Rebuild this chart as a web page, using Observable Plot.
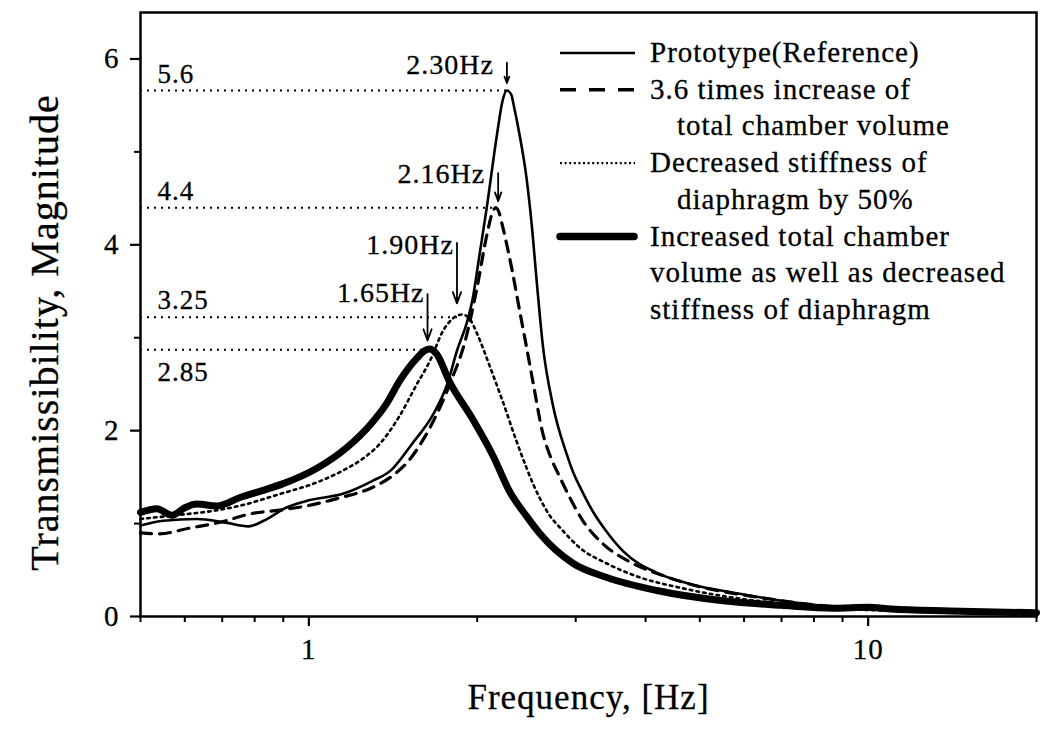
<!DOCTYPE html>
<html><head><meta charset="utf-8">
<script src="https://cdn.jsdelivr.net/npm/d3@7"></script>
<script src="https://cdn.jsdelivr.net/npm/@observablehq/plot@0.6"></script>
<style>
html,body{margin:0;padding:0;background:#fff;}
#chart{width:1044px;height:730px;}
svg text{letter-spacing:1px;stroke:black;stroke-width:0.3px;}
</style></head><body><div id="chart"></div>
<script>
// ---- data ----
const protoF = [0.5,0.55,0.63,0.71,0.78,0.83,0.91,1.0,1.15,1.3,1.4,1.53,1.67,1.77,1.84,1.92,1.96,2.02,2.08,2.17,2.22,2.26,2.30,2.33,2.38,2.45,2.50,2.56,2.62,2.73,2.89,2.97,3.05,3.22,3.4,3.65,4.19,4.8,5.82,7.0,8.5,10,12,15,20];
const protoV = [0.98,1.03,1.05,1.01,0.97,1.03,1.17,1.25,1.32,1.46,1.57,1.86,2.18,2.51,2.86,3.18,3.40,3.9,4.40,5.19,5.55,5.66,5.62,5.47,5.19,4.72,4.25,3.55,2.92,2.28,1.75,1.55,1.40,1.13,0.92,0.70,0.47,0.35,0.25,0.17,0.11,0.08,0.06,0.05,0.04];

const dashF = [0.5,0.54,0.61,0.7,0.78,0.9,0.99,1.14,1.29,1.4,1.5,1.6,1.7,1.8,1.9,2.0,2.08,2.13,2.16,2.19,2.22,2.31,2.38,2.45,2.52,2.62,2.7,2.8,2.9,3.09,3.36,3.8,4.3,5.0,6.0,7.0,8.5,10,12,15,20];
const dashV = [0.90,0.89,0.95,1.02,1.10,1.15,1.19,1.28,1.38,1.5,1.66,1.9,2.2,2.55,2.95,3.55,4.1,4.35,4.4,4.34,4.2,3.72,3.3,2.9,2.5,1.97,1.73,1.52,1.33,1.03,0.78,0.57,0.44,0.32,0.23,0.17,0.11,0.08,0.06,0.05,0.04];

const dotF = [0.5,0.6,0.68,0.75,0.89,1.03,1.15,1.25,1.34,1.45,1.56,1.646,1.74,1.82,1.88,1.94,2.0,2.11,2.22,2.35,2.45,2.52,2.6,2.7,2.81,3.05,3.41,3.91,4.61,5.5,7,10,14,20];
const dotV = [1.05,1.1,1.14,1.19,1.32,1.44,1.57,1.70,1.86,2.15,2.5,2.75,3.08,3.22,3.25,3.2,3.04,2.68,2.32,1.89,1.6,1.42,1.25,1.08,0.96,0.74,0.57,0.42,0.31,0.22,0.14,0.07,0.05,0.03];

const thickF = [0.5,0.535,0.569,0.6,0.63,0.685,0.753,0.82,0.9,1.03,1.17,1.29,1.38,1.455,1.56,1.61,1.646,1.69,1.787,1.965,2.134,2.288,2.45,2.59,2.97,3.41,4.19,5.5,7,8.7,10,11,14,20];
const thickV = [1.12,1.16,1.09,1.17,1.21,1.19,1.28,1.35,1.43,1.59,1.82,2.07,2.30,2.54,2.78,2.86,2.88,2.83,2.52,2.12,1.73,1.34,1.08,0.89,0.57,0.42,0.28,0.17,0.12,0.09,0.10,0.08,0.06,0.04];

// reference (peak) lines
const refY = [5.66, 4.4, 3.22, 2.87];
const refEnd = [2.26, 2.14, 1.86, 1.62];
const refLabels = ["5.6", "4.4", "3.25", "2.85"];

// peak-frequency annotations
const annoText = ["2.30Hz", "2.16Hz", "1.90Hz", "1.65Hz"];
const annoF = [2.26, 2.18, 1.84, 1.63];
const annoTop = [5.96, 4.77, 4.02, 3.47];
const annoTip = [5.74, 4.47, 3.37, 2.97];
const annoTextY = [5.84, 4.66, 3.90, 3.38];

// axes
const xMajor = [1, 10];
const xMinor = [0.5,0.6,0.7,0.8,0.9,2,3,4,5,6,7,8,9,20];
const yMajor = [0, 2, 4, 6];
const yMinor = [1, 3, 5];
const xTitle = "Frequency, [Hz]";
const yTitle = "Transmissibility, Magnitude";

// legend
const legendLabels = [
  ["Prototype(Reference)"],
  ["3.6 times increase of", "total chamber volume"],
  ["Decreased stiffness of", "diaphragm by 50%"],
  ["Increased total chamber", "volume as well as decreased", "stiffness of diaphragm"]
];

// ---- build ----
const toRows = (f, v) => f.map((d, i) => ({f: d, v: v[i]}));
const proto = toRows(protoF, protoV);
const dashed = toRows(dashF, dashV);
const dotted = toRows(dotF, dotV);
const thick = toRows(thickF, thickV);
const refs = refY.map((y, i) => ({y, end: refEnd[i], label: refLabels[i], i}));
const annos = annoText.map((t, i) => ({t, f: annoF[i], top: annoTop[i], tip: annoTip[i], ty: annoTextY[i], i}));

const serif = "'Liberation Serif', 'Times New Roman', serif";

const chart = Plot.plot({
  width: 1044, height: 730,
  marginLeft: 140, marginRight: 8, marginTop: 12, marginBottom: 114,
  x: {type: "log", domain: [0.5, 20], label: null},
  y: {domain: [0, 6.5], label: null},
  style: {fontFamily: serif, fontSize: "28px", color: "black", background: "white"},
  marks: [
    Plot.ruleY(refs, {y: "y", x1: 0.5, x2: "end", stroke: "black", strokeWidth: 2, strokeDasharray: "2,5"}),
    Plot.text(refs.filter(d => d.i < 3), {x: 0.5, y: "y", text: "label", textAnchor: "start", lineAnchor: "bottom", dx: 17, dy: -8, fontSize: 27}),
    Plot.text(refs.filter(d => d.i === 3), {x: 0.5, y: "y", text: "label", textAnchor: "start", lineAnchor: "top", dx: 17, dy: 12, fontSize: 27}),
    Plot.line(dotted, {x: "f", y: "v", curve: "monotone-x", stroke: "black", strokeWidth: 2.6, strokeDasharray: "2.6,4.2"}),
    Plot.line(dashed, {x: "f", y: "v", curve: "monotone-x", stroke: "black", strokeWidth: 3.2, strokeDasharray: "11,8"}),
    Plot.line(proto, {x: "f", y: "v", curve: "monotone-x", stroke: "black", strokeWidth: 2.6}),
    Plot.line(thick, {x: "f", y: "v", curve: "monotone-x", stroke: "black", strokeWidth: 7, strokeLinejoin: "round"}),
    Plot.arrow(annos, {x1: "f", y1: "top", x2: "f", y2: "tip", stroke: "black", strokeWidth: 1.8, headLength: 10, headAngle: 40}),
    Plot.text(annos.filter(d => d.i < 2), {x: "f", y: "ty", text: "t", textAnchor: "end", lineAnchor: "bottom", dx: -13, fontSize: 28}),
    Plot.text(annos.filter(d => d.i >= 2), {x: "f", y: "ty", text: "t", textAnchor: "end", lineAnchor: "bottom", dx: -3, fontSize: 28}),
    Plot.frame({stroke: "black", strokeWidth: 2.5}),
    Plot.axisX({ticks: xMajor, tickSize: 10, tickPadding: 12, tickFormat: d => String(d), strokeWidth: 2.2, fontSize: 29, label: null}),
    Plot.axisX({ticks: xMinor, tickSize: 6, tickFormat: () => "", strokeWidth: 2, label: null}),
    Plot.axisY({ticks: yMajor, tickSize: 10, tickPadding: 11, tickFormat: d => String(d), strokeWidth: 2.2, fontSize: 29, label: null}),
    Plot.axisY({ticks: yMinor, tickSize: 6, tickFormat: () => "", strokeWidth: 2, label: null}),
    Plot.text([xTitle], {text: d => d, frameAnchor: "bottom", dy: 92, fontSize: 35}),
    Plot.text([yTitle], {text: d => d, frameAnchor: "left", textAnchor: "middle", dx: -95, dy: 18, rotate: -90, fontSize: 40})
  ]
});

// legend drawn inside the plot area
const svg = d3.select(chart);
const lg = svg.append("g").attr("font-family", serif).attr("font-size", 29).attr("fill", "black").attr("text-anchor", "start").style("letter-spacing", "1.2px");
const legendStyles = [
  {w: 2.5, dash: null, x1: 560, x2: 635, cap: "butt"},
  {w: 3.5, dash: "16,13", x1: 560, x2: 635, cap: "butt"},
  {w: 2.2, dash: "2,2.6", x1: 560, x2: 635, cap: "butt"},
  {w: 7.5, dash: null, x1: 560, x2: 634, cap: "round"}
];
const indent = [0, 27, 27, 0];
let row = 0;
const base0 = 62, step = 36.7, textX = 650;
legendLabels.forEach((lines, k) => {
  const st = legendStyles[k];
  const by = base0 + row * step;
  lg.append("line").attr("x1", st.x1).attr("x2", st.x2).attr("y1", by - 9).attr("y2", by - 9)
    .attr("stroke", "black").attr("stroke-width", st.w).attr("stroke-linecap", st.cap)
    .attr("stroke-dasharray", st.dash);
  lines.forEach((t, j) => {
    lg.append("text").attr("x", textX + (j > 0 ? indent[k] : 0)).attr("y", base0 + row * step).text(t);
    row++;
  });
});

document.getElementById("chart").appendChild(chart);
</script>
</body></html>
